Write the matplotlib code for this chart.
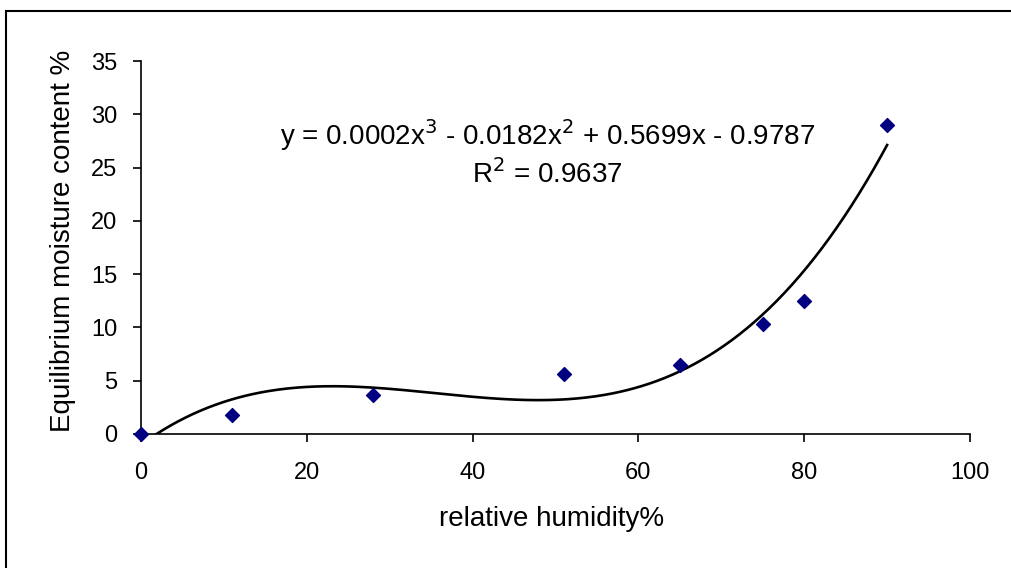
import numpy as np
import matplotlib
matplotlib.use("Agg")
import matplotlib.pyplot as plt
from matplotlib.patches import Rectangle

plt.rcParams['font.family'] = ['Liberation Sans', 'DejaVu Sans']

rh = [0, 11, 28, 51, 65, 75, 80, 90]
emc = [0, 1.8, 3.7, 5.6, 6.5, 10.3, 12.5, 29]
x_ticks = [0, 20, 40, 60, 80, 100]
y_ticks = [0, 5, 10, 15, 20, 25, 30, 35]
eq_text = "y = 0.0002x$^3$ - 0.0182x$^2$ + 0.5699x - 0.9787"
r2_text = "R$^2$ = 0.9637"

fig = plt.figure(figsize=(10.12, 5.68), dpi=100)
fig.patches.append(Rectangle((0.006, -0.05), 1.1, 1 - 11/568 + 0.05,
                             transform=fig.transFigure, fill=False,
                             edgecolor='black', linewidth=1.5))
ax = fig.add_axes([141/1012, 1 - 434/568, (970-141)/1012, (434-61)/568])

coef = np.polyfit(rh, emc, 3)
xs = np.linspace(0, 90, 400)
ys = np.polyval(coef, xs)
ax.plot(xs, ys, color='black', linewidth=1.9, clip_on=True)
ax.scatter(rh, emc, marker='D', s=50, color='#000080', zorder=5, clip_on=False)

ax.set_xlim(0, 100)
ax.set_ylim(0, 35)
ax.set_xticks(x_ticks)
ax.set_yticks(y_ticks)
ax.tick_params(labelsize=17, direction='out', length=6, width=1.2)
ax.tick_params(axis='x', pad=14)
ax.tick_params(axis='y', pad=11)
for s in ['top', 'right']:
    ax.spines[s].set_visible(False)
for s in ['left', 'bottom']:
    ax.spines[s].set_linewidth(1.2)

ax.set_xlabel("relative humidity%", fontsize=20, va='center')
ax.set_ylabel("Equilibrium moisture content %", fontsize=20, va='center')
ax.xaxis.set_label_coords((552 - 141) / 829, (434 - 519) / 373)
ax.yaxis.set_label_coords((63 - 141) / 829, (434 - 241) / 373)

ax.text(49.0, 28.05, eq_text, fontsize=20, ha='center', va='center')
ax.text(49.0, 24.4, r2_text, fontsize=20, ha='center', va='center')

fig.savefig("out.png", dpi=100)
